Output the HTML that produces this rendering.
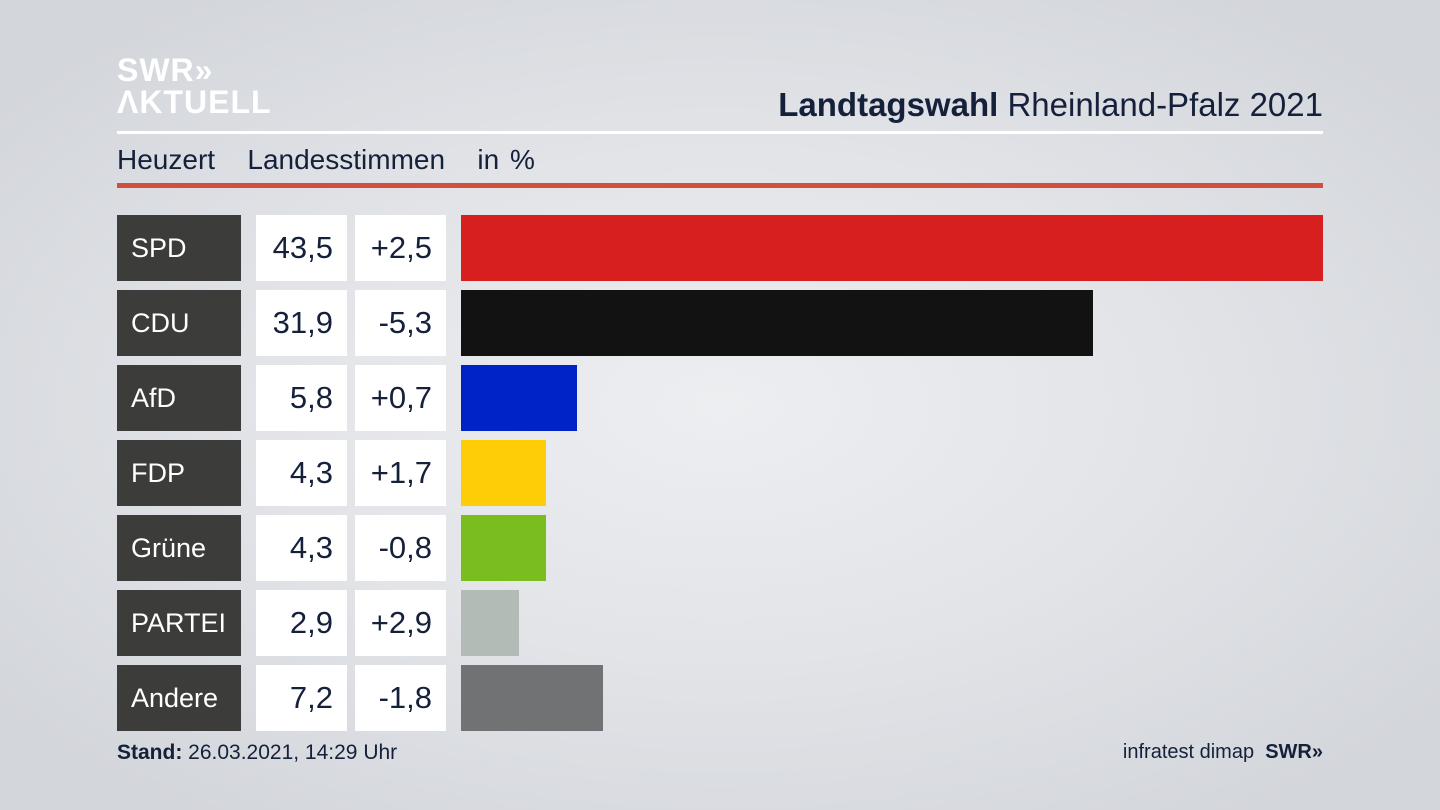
<!DOCTYPE html>
<html><head><meta charset="utf-8"><style>
*{margin:0;padding:0;box-sizing:border-box}
body{width:1440px;height:810px;overflow:hidden;position:relative;font-family:"Liberation Sans","DejaVu Sans",sans-serif;color:#15203a;
background:radial-gradient(ellipse 900px 500px at 50% 50%,#eceef1 0%,#e2e4e8 50%,#d3d6db 100%);}
.a{position:absolute}
.logo{left:117px;color:#fff;font-weight:bold;font-size:32px;line-height:32px;letter-spacing:1px}
.lab{background:#3c3c3b;color:#fff;font-size:27px;left:117px;width:124px;height:66px;line-height:66px;padding-left:14px}
.v{background:#fff;font-size:31px;height:66px;line-height:66px;text-align:right;padding-right:14px}
</style></head><body>
<div class="a logo" style="top:54px">SWR»</div>
<div class="a logo" style="top:86px">ΛKTUELL</div>
<div class="a" style="right:117px;top:86px;font-size:33px;"><b>Landtagswahl</b> Rheinland-Pfalz 2021</div>
<div class="a" style="left:117px;top:131px;width:1206px;height:3px;background:#fff"></div>
<div class="a" style="left:117px;top:144px;font-size:28px;word-spacing:3px">Heuzert&nbsp;&nbsp; Landesstimmen&nbsp;&nbsp; in %</div>
<div class="a" style="left:117px;top:183px;width:1206px;height:5px;background:#d0503d"></div>

<div class="a lab" style="top:215px">SPD</div><div class="a v" style="top:215px;left:256px;width:91px">43,5</div><div class="a v" style="top:215px;left:355px;width:91px">+2,5</div><div class="a" style="top:215px;left:461px;height:66px;width:862px;background:#d71f20"></div>
<div class="a lab" style="top:290px">CDU</div><div class="a v" style="top:290px;left:256px;width:91px">31,9</div><div class="a v" style="top:290px;left:355px;width:91px">-5,3</div><div class="a" style="top:290px;left:461px;height:66px;width:632px;background:#121212"></div>
<div class="a lab" style="top:365px">AfD</div><div class="a v" style="top:365px;left:256px;width:91px">5,8</div><div class="a v" style="top:365px;left:355px;width:91px">+0,7</div><div class="a" style="top:365px;left:461px;height:66px;width:116px;background:#0023c8"></div>
<div class="a lab" style="top:440px">FDP</div><div class="a v" style="top:440px;left:256px;width:91px">4,3</div><div class="a v" style="top:440px;left:355px;width:91px">+1,7</div><div class="a" style="top:440px;left:461px;height:66px;width:85px;background:#fecd08"></div>
<div class="a lab" style="top:515px">Grüne</div><div class="a v" style="top:515px;left:256px;width:91px">4,3</div><div class="a v" style="top:515px;left:355px;width:91px">-0,8</div><div class="a" style="top:515px;left:461px;height:66px;width:85px;background:#79be1e"></div>
<div class="a lab" style="top:590px">PARTEI</div><div class="a v" style="top:590px;left:256px;width:91px">2,9</div><div class="a v" style="top:590px;left:355px;width:91px">+2,9</div><div class="a" style="top:590px;left:461px;height:66px;width:58px;background:#b3bbb6"></div>
<div class="a lab" style="top:665px">Andere</div><div class="a v" style="top:665px;left:256px;width:91px">7,2</div><div class="a v" style="top:665px;left:355px;width:91px">-1,8</div><div class="a" style="top:665px;left:461px;height:66px;width:142px;background:#717274"></div>

<div class="a" style="left:117px;top:741px;font-size:21px"><b>Stand:</b> 26.03.2021, 14:29 Uhr</div>
<div class="a" style="right:117px;top:741px;font-size:20px">infratest dimap&nbsp;&nbsp;<b>SWR»</b></div>
</body></html>
